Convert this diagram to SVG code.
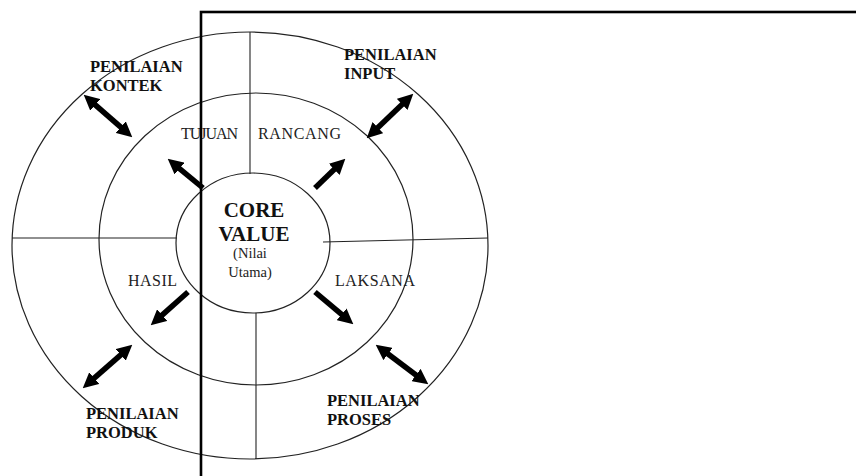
<svg xmlns="http://www.w3.org/2000/svg" width="856" height="476" viewBox="0 0 856 476">
<style>
.ring{fill:none;stroke:#222;stroke-width:1.2}
.div{stroke:#222;stroke-width:1.1}
.lbl{font-family:"Liberation Serif","Times New Roman",serif;font-size:16px;fill:#222}
.bold{font-family:"Liberation Serif","Times New Roman",serif;font-size:16.5px;font-weight:bold;fill:#111}
.core{font-family:"Liberation Serif","Times New Roman",serif;font-size:21px;font-weight:bold;fill:#111}
.sub{font-family:"Liberation Serif","Times New Roman",serif;font-size:14.5px;fill:#222}
.arr{stroke:#000;stroke-width:5.5;fill:none}
.frame{fill:none;stroke:#000;stroke-width:2.6}
</style>
<defs>
<marker id="head" viewBox="0 0 10 10" refX="1.3" refY="5" markerWidth="2.8" markerHeight="2.8" orient="auto-start-reverse">
<path d="M0,0 L10,5 L0,10 z" fill="#000"/>
</marker>
</defs>
<rect width="856" height="476" fill="#fff"/>
<g id="rings">
<ellipse class="ring" cx="250" cy="245.5" rx="238" ry="213.5"/>
<ellipse class="ring" cx="256" cy="239" rx="157" ry="146"/>
<ellipse class="ring" cx="253" cy="243" rx="77" ry="70"/>
<line class="div" x1="12" y1="238" x2="177" y2="238"/>
<line class="div" x1="323" y1="242" x2="488" y2="238"/>
<line class="div" x1="250" y1="32" x2="250" y2="174"/>
<line class="div" x1="256" y1="313" x2="256" y2="459"/>
</g>
<g id="core">
<text class="core" x="254" y="217" text-anchor="middle">CORE</text>
<text class="core" x="254" y="241" text-anchor="middle">VALUE</text>
<text class="sub" x="250" y="258" text-anchor="middle">(Nilai</text>
<text class="sub" x="250" y="277" text-anchor="middle">Utama)</text>
</g>
<g id="tujuan"><text class="lbl" x="181" y="139" textLength="57">TUJUAN</text></g>
<g id="rancang"><text class="lbl" x="258" y="139" textLength="83">RANCANG</text></g>
<g id="hasil"><text class="lbl" x="128" y="286" textLength="49">HASIL</text></g>
<g id="laksana"><text class="lbl" x="335" y="286" textLength="80">LAKSANA</text></g>
<g id="penilaian-kontek">
<text class="bold" x="90" y="72">PENILAIAN</text>
<text class="bold" x="90" y="91">KONTEK</text>
</g>
<g id="penilaian-input">
<text class="bold" x="344" y="60">PENILAIAN</text>
<text class="bold" x="344" y="79">INPUT</text>
</g>
<g id="penilaian-produk">
<text class="bold" x="86" y="419">PENILAIAN</text>
<text class="bold" x="86" y="438">PRODUK</text>
</g>
<g id="penilaian-proses">
<text class="bold" x="327" y="406">PENILAIAN</text>
<text class="bold" x="327" y="425">PROSES</text>
</g>
<g id="connectors">
<line class="arr" x1="93.8" y1="103.6" x2="122.2" y2="128.4" marker-start="url(#head)" marker-end="url(#head)"/>
<line class="arr" x1="203" y1="188" x2="178" y2="167.3" marker-end="url(#head)"/>
<line class="arr" x1="315" y1="188" x2="335.7" y2="168" marker-end="url(#head)"/>
<line class="arr" x1="376.4" y1="129" x2="403.6" y2="103" marker-start="url(#head)" marker-end="url(#head)"/>
<line class="arr" x1="188" y1="292" x2="160.7" y2="316.4" marker-end="url(#head)"/>
<line class="arr" x1="315" y1="292" x2="343.1" y2="315.6" marker-end="url(#head)"/>
<line class="arr" x1="92.8" y1="379.4" x2="122.2" y2="353.6" marker-start="url(#head)" marker-end="url(#head)"/>
<line class="arr" x1="386.4" y1="352.8" x2="417.6" y2="376.2" marker-start="url(#head)" marker-end="url(#head)"/>
</g>
<rect class="frame" x="201" y="12" width="700" height="500"/>
</svg>
